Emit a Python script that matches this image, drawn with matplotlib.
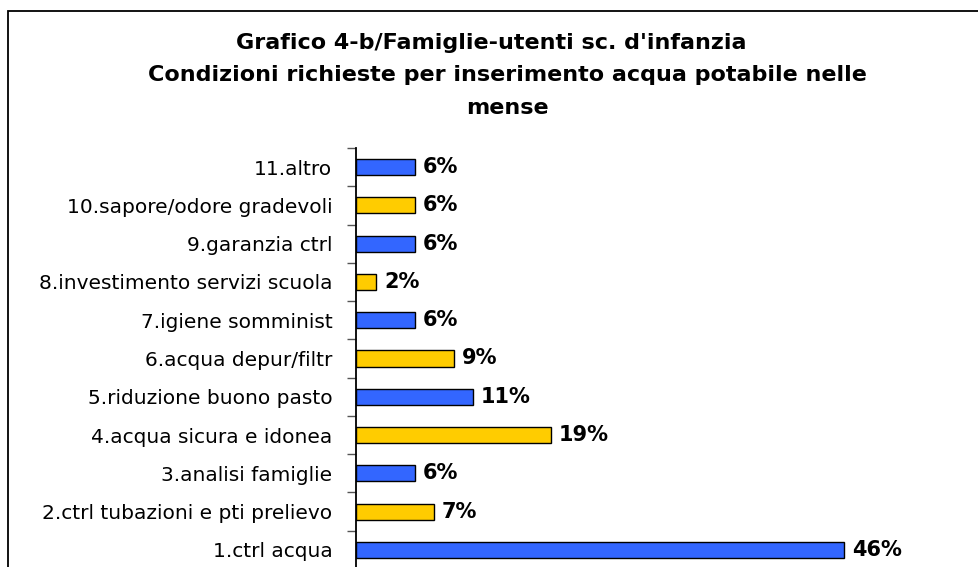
import matplotlib.pyplot as plt
import matplotlib.patches as patches
import numpy as np

plt.rcParams['font.family'] = ['DejaVu Sans']

# dati (dal basso verso l'alto)
categorie = ["1.ctrl acqua", "2.ctrl tubazioni e pti prelievo", "3.analisi famiglie",
             "4.acqua sicura e idonea", "5.riduzione buono pasto", "6.acqua depur/filtr",
             "7.igiene somminist", "8.investimento servizi scuola", "9.garanzia ctrl",
             "10.sapore/odore gradevoli", "11.altro"]
valori = [46.3, 7.4, 5.6, 18.5, 11.1, 9.3, 5.6, 1.9, 5.6, 5.6, 5.6]
etichette = ["46%", "7%", "6%", "19%", "11%", "9%", "6%", "2%", "6%", "6%", "6%"]

blu = "#3366FF"
giallo = "#FFCC00"
colori = [blu if i % 2 == 0 else giallo for i in range(len(valori))]

W, H = 979, 567
fig = plt.figure(figsize=(W / 100, H / 100), dpi=100)

# cornice
fig.patches.append(patches.Rectangle((8 / W, -0.1), 1.2, 1 - 11 / H + 0.1,
                                     transform=fig.transFigure, fill=False,
                                     edgecolor="black", linewidth=1.3))

ax = fig.add_axes([356 / W, -2 / H, 575 / W, (569 - 148) / H])
y = np.arange(len(valori))
ax.barh(y, valori, height=0.42, color=colori, edgecolor="black", linewidth=1.0)
for yi, v, t in zip(y, valori, etichette):
    ax.text(v + 0.75, yi, t, va="center", ha="left", fontsize=15, fontweight="bold")

ax.set_xlim(0, 54.5)
ax.set_ylim(-0.5, len(valori) - 0.5)
ax.set_yticks(y)
ax.set_yticklabels(categorie, fontsize=14.5)
ax.tick_params(axis="y", which="major", length=0, pad=17)
ax.set_yticks(np.arange(-0.5, len(valori), 1), minor=True)
ax.tick_params(axis="y", which="minor", length=6.5, width=1, color="#555555")
ax.set_xticks([])
for s in ["top", "right", "bottom"]:
    ax.spines[s].set_visible(False)
ax.spines["left"].set_linewidth(1.3)

fig.text(491 / W, 1 - 43 / H, "Grafico 4-b/Famiglie-utenti sc. d'infanzia",
         ha="center", va="center", fontsize=16, fontweight="bold")
fig.text(507 / W, 1 - 75 / H, "Condizioni richieste per inserimento acqua potabile nelle",
         ha="center", va="center", fontsize=16, fontweight="bold")
fig.text(507 / W, 1 - 108 / H, "mense",
         ha="center", va="center", fontsize=16, fontweight="bold")

fig.savefig("out.png", dpi=100)
